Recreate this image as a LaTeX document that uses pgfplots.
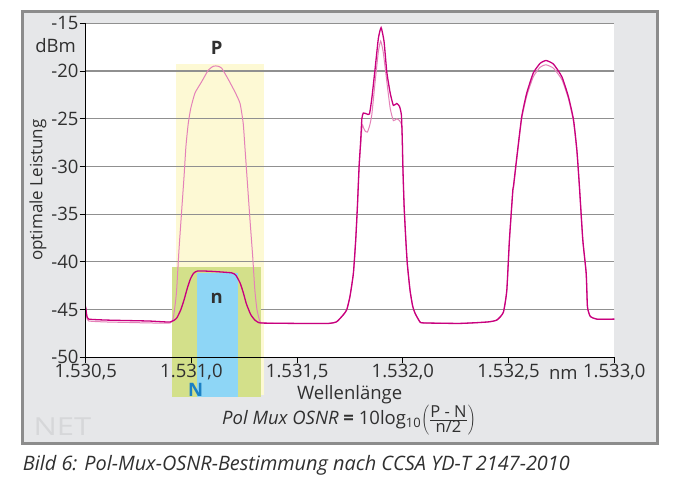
\documentclass[border=0pt]{standalone}
\usepackage{pgfplots}
\pgfplotsset{compat=1.18}
\usepackage{fontspec}
\setmainfont{Open Sans}
\definecolor{bggray}{HTML}{E6E7E9}
\definecolor{framegray}{HTML}{8C8C8C}
\definecolor{gridgray}{HTML}{909090}
\definecolor{yellowc}{HTML}{FDF9D4}
\definecolor{greenc}{HTML}{D3E08A}
\definecolor{bluec}{HTML}{8ED6F6}
\definecolor{nblue}{HTML}{1B80C4}
\definecolor{darkc}{HTML}{C8007E}
\definecolor{lightc}{HTML}{E481B8}
\definecolor{netgray}{HTML}{D6D7D9}
\definecolor{txt}{HTML}{303030}
\begin{document}
\begin{tikzpicture}
\fill[white] (0,0) rectangle (676pt,481pt);
\path[use as bounding box] (0,0) rectangle (676pt,481pt);
\draw[line width=3pt, draw=framegray, fill=bggray] (22.3pt,37.2pt) rectangle (657.8pt,469.7pt);
\begin{axis}[
  at={(85.7pt,123.7pt)}, anchor=south west,
  width=528.6pt, height=334pt, scale only axis,
  xmin=1530.5, xmax=1533, ymin=-50, ymax=-15,
  axis lines=left, axis line style={-, line width=1.2pt, black},
  axis background/.style={fill=white},
  axis on top, clip=false,
  tick align=outside, major tick length=6pt,
  tick style={black, line width=1pt},
  xtick={1530.5,1531,1531.5,1532,1532.5,1533},
  xticklabels={{1.530,5},{1.531,0},{1.531,5},{1.532,0},{1.532,5},{1.533,0}},
  ytick={-50,-45,-40,-35,-30,-25,-20,-15},
  yticklabels={-50,-45,-40,-35,-30,-25,-20,-15},
  ticklabel style={font=\fontsize{18.5}{22}\selectfont, text=txt},
  yticklabel style={inner sep=1pt},
  xticklabel style={inner sep=1pt},
]
\fill[yellowc] (axis cs:1530.927,-53.96) rectangle (axis cs:1531.343,-19.23);
\draw[gridgray, line width=1.2pt] (axis cs:1530.5,-45) -- (axis cs:1533,-45);
\draw[gridgray, line width=1.2pt] (axis cs:1530.5,-40) -- (axis cs:1533,-40);
\draw[gridgray, line width=1.2pt] (axis cs:1530.5,-35) -- (axis cs:1533,-35);
\draw[gridgray, line width=1.2pt] (axis cs:1530.5,-30) -- (axis cs:1533,-30);
\draw[gridgray, line width=1.2pt] (axis cs:1530.5,-25) -- (axis cs:1533,-25);
\draw[gridgray, line width=1.2pt] (axis cs:1530.5,-20) -- (axis cs:1533,-20);
\draw[gridgray, line width=1.2pt] (axis cs:1530.5,-15) -- (axis cs:1533,-15);
\fill[greenc] (axis cs:1530.908,-54.14) rectangle (axis cs:1531.328,-40.55);
\fill[bluec] (axis cs:1531.026,-54.14) rectangle (axis cs:1531.219,-41.2);
% light curve (P)
\addplot[lightc, line width=1pt, smooth, tension=0.3] coordinates {
(1530.500,-44.9) (1530.505,-45.8) (1530.515,-46.2) (1530.60,-46.3) (1530.70,-46.35)
(1530.80,-46.4) (1530.90,-46.4) (1530.914,-45.9) (1530.923,-44.5) (1530.93,-43.0)
(1530.941,-38.8) (1530.954,-34.6) (1530.965,-31.1) (1530.974,-27.9) (1530.985,-25.5)
(1530.997,-23.9) (1531.017,-22.3) (1531.049,-21.1) (1531.080,-19.9) (1531.104,-19.5)
(1531.123,-19.48) (1531.143,-19.7) (1531.175,-20.9) (1531.206,-22.2) (1531.230,-23.4)
(1531.245,-25.5) (1531.254,-28.3) (1531.265,-31.8) (1531.277,-35.6) (1531.290,-39.5)
(1531.300,-42.96) (1531.31,-45.0) (1531.325,-46.3) (1531.35,-46.42) (1531.50,-46.45)
(1531.65,-46.45) (1531.685,-46.3) (1531.70,-46.0) (1531.72,-45.5) (1531.735,-45.0)
(1531.75,-43.6) (1531.766,-41.2) (1531.777,-37.7) (1531.785,-34.2) (1531.793,-30.0)
(1531.803,-27.0) (1531.808,-25.6) (1531.813,-25.9) (1531.822,-26.3) (1531.832,-26.4)
(1531.842,-25.8) (1531.853,-24.6) (1531.869,-21.1) (1531.884,-18.0) (1531.895,-16.86)
(1531.907,-18.0) (1531.924,-21.1) (1531.940,-23.9) (1531.955,-25.2) (1531.971,-25.0)
(1531.984,-25.2) (1531.995,-25.7) (1531.998,-27.5) (1532.000,-30.0) (1532.006,-34.2)
(1532.014,-37.7) (1532.021,-40.2) (1532.034,-43.0) (1532.046,-44.6) (1532.058,-45.4)
(1532.081,-46.3) (1532.10,-46.4) (1532.27,-46.45) (1532.40,-46.3) (1532.444,-46.1)
(1532.475,-45.3) (1532.4915,-43.0) (1532.504,-37.7) (1532.52,-32.6) (1532.523,-32.3)
(1532.539,-29.2) (1532.562,-25.0) (1532.586,-22.6) (1532.617,-20.6) (1532.649,-19.6)
(1532.677,-19.35) (1532.712,-19.7) (1532.752,-20.9) (1532.783,-22.9) (1532.807,-25.3)
(1532.823,-28.4) (1532.835,-32.1) (1532.851,-37.7) (1532.867,-41.2) (1532.873,-44.7)
(1532.886,-45.7) (1532.917,-46.0) (1533.0,-46.0)
};
% dark curve (n)
\addplot[darkc, line width=1.3pt, smooth, tension=0.3] coordinates {
(1530.500,-44.7) (1530.505,-45.6) (1530.515,-46.0) (1530.60,-46.1) (1530.70,-46.15)
(1530.80,-46.2) (1530.90,-46.3) (1530.93,-45.9) (1530.95,-45.0) (1530.965,-44.0)
(1530.98,-42.8) (1530.995,-41.8) (1531.01,-41.2) (1531.03,-40.95) (1531.10,-41.0)
(1531.19,-41.15) (1531.21,-41.4) (1531.23,-42.2) (1531.245,-43.2) (1531.26,-44.4)
(1531.28,-45.5) (1531.30,-46.1) (1531.32,-46.38) (1531.35,-46.42) (1531.50,-46.45)
(1531.65,-46.45) (1531.685,-46.3) (1531.70,-46.0) (1531.72,-45.5) (1531.735,-45.0)
(1531.75,-43.6) (1531.766,-41.2) (1531.777,-37.7) (1531.785,-34.2) (1531.793,-30.0)
(1531.80,-27.5) (1531.806,-25.0) (1531.813,-24.4) (1531.829,-24.5) (1531.842,-24.5)
(1531.853,-22.9) (1531.869,-19.7) (1531.884,-16.6) (1531.897,-15.45) (1531.911,-16.9)
(1531.924,-20.1) (1531.940,-22.3) (1531.955,-23.6) (1531.971,-23.4) (1531.984,-23.7)
(1531.993,-24.6) (1531.997,-27.0) (1532.000,-30.0) (1532.006,-34.2) (1532.014,-37.7)
(1532.021,-40.2) (1532.034,-43.0) (1532.046,-44.6) (1532.058,-45.4) (1532.081,-46.3)
(1532.10,-46.4) (1532.27,-46.45) (1532.40,-46.3) (1532.444,-46.1) (1532.475,-45.3)
(1532.4915,-43.0) (1532.504,-37.7) (1532.52,-32.5) (1532.523,-32.1) (1532.539,-29.0)
(1532.562,-24.8) (1532.586,-22.3) (1532.617,-20.2) (1532.649,-19.2) (1532.677,-18.9)
(1532.712,-19.27) (1532.752,-20.6) (1532.783,-22.7) (1532.807,-25.1) (1532.823,-28.3)
(1532.835,-32.1) (1532.851,-37.7) (1532.867,-41.2) (1532.873,-44.7) (1532.886,-45.7)
(1532.917,-46.0) (1533.0,-46.0)
};
\node[font=\fontsize{18.5}{22}\selectfont\bfseries, text=txt] at (axis cs:1531.12,-17.56) {P};
\node[font=\fontsize{18.5}{22}\selectfont\bfseries, text=txt] at (axis cs:1531.12,-43.8) {n};
\node[font=\fontsize{18.5}{22}\selectfont\bfseries, text=nblue] at (axis cs:1531.02,-53.4) {N};
\end{axis}
\node[anchor=base east, inner sep=0pt, text=txt, font=\fontsize{18.5}{22}\selectfont] at (76pt,428.7pt) {dBm};
\node[anchor=base, inner sep=0pt, text=txt, font=\fontsize{18.5}{22}\selectfont] at (563.3pt,101pt) {nm};
\node[rotate=90, inner sep=0pt, text=txt, font=\fontsize{17}{20}\selectfont] at (38pt,291pt) {optimale Leistung};
\node[anchor=base, inner sep=0pt, text=txt, font=\fontsize{18.5}{22}\selectfont] at (349.7pt,81.7pt) {Wellenlänge};
\node[inner sep=0pt, text=txt, font=\fontsize{18.5}{22}\selectfont] at (349pt,61pt) {\textit{Pol Mux OSNR} \textbf{=} 10log\textsubscript{10}$\left(\frac{\mbox{\fontsize{16.5}{18}\selectfont P - N}}{\mbox{\fontsize{16.5}{18}\selectfont n/2}}\right)$};
\node[anchor=south west, inner sep=0pt, text=netgray] at (33.3pt,45pt) {\resizebox{57.7pt}{17.7pt}{NET}};
\node[anchor=base west, inner sep=0pt, text=txt, font=\fontsize{19.9}{23}\selectfont\itshape] at (22.7pt,11pt) {Bild 6: Pol-Mux-OSNR-Bestimmung nach CCSA YD-T 2147-2010};
\end{tikzpicture}
\end{document}
